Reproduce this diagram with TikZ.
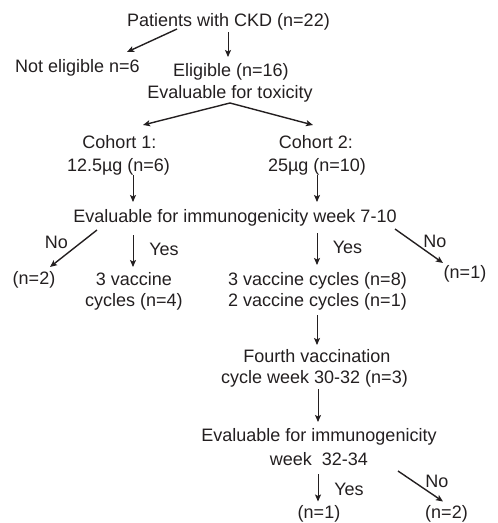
\documentclass[tikz,border=0pt]{standalone}
\usepackage{fontspec}
\setmainfont{Liberation Sans}
\usetikzlibrary{arrows.meta,calc}
\definecolor{txtc}{HTML}{231F20}
\tikzset{
  lbl/.style={font=\fontsize{18}{22}\selectfont, inner sep=0pt, anchor=base, text=txtc},
  arr/.style={draw=txtc, line width=1pt, -{Stealth[length=7pt,width=6pt,inset=1.5pt]}},
  darr/.style={arr, line width=1.4pt},
}
\begin{document}
\begin{tikzpicture}[x=1pt,y=-1pt]
\useasboundingbox (0,0) rectangle (498,523);
% nodes
\node[lbl] (top)   at (228.5,26)  {Patients with CKD (n=22)};
\node[lbl] (notel) at (77.5,72.5) {Not eligible n=6};
\node[lbl] (elig)  at (231,76)    {Eligible (n=16)};
\node[lbl] (tox)   at (230,98)    {Evaluable for toxicity};
\node[lbl] (c1a)   at (119.5,148) {Cohort 1:};
\node[lbl] (c1b)   at (118.5,171) {12.5µg (n=6)};
\node[lbl] (c2a)   at (316,148)   {Cohort 2:};
\node[lbl] (c2b)   at (317,171)   {25µg (n=10)};
\node[lbl] (ev1)   at (235,222)   {Evaluable for immunogenicity week 7-10};
\node[lbl] (no1)   at (56.5,248)  {No};
\node[lbl] (yes1)  at (164,255)   {Yes};
\node[lbl] (yes2)  at (347.5,253) {Yes};
\node[lbl] (no2)   at (435,247)   {No};
\node[lbl] (n2a)   at (34,284)    {(n=2)};
\node[lbl] (v4a)   at (134,285)   {3 vaccine};
\node[lbl] (v4b)   at (134,306)   {cycles (n=4)};
\node[lbl] (v8a)   at (317.5,285) {3 vaccine cycles (n=8)};
\node[lbl] (v8b)   at (317.5,306) {2 vaccine cycles (n=1)};
\node[lbl] (n1a)   at (465,278)   {(n=1)};
\node[lbl] (fa)    at (317,362)   {Fourth vaccination};
\node[lbl] (fb)    at (314.5,383) {cycle week 30-32 (n=3)};
\node[lbl] (ev2a)  at (319,441)   {Evaluable for immunogenicity};
\node[lbl] (ev2b)  at (319,465)   {week\ \ 32-34};
\node[lbl] (yes3)  at (349,495)   {Yes};
\node[lbl] (no3)   at (437,487)   {No};
\node[lbl] (n1b)   at (319,518.5) {(n=1)};
\node[lbl] (n2b)   at (446.5,518.5) {(n=2)};
% connectors
\draw[darr] ($(top.base)+(-51.5,3)$) -- ($(notel.base)+(49.5,-20.5)$);
\draw[arr]  ($(top.base)+(-0.5,6)$) -- ($(elig.base)+(-3,-19)$);
\draw[darr] ($(tox.base)+(0,5)$) -- ($(c1a.base)+(23.5,-23)$);
\draw[darr] ($(tox.base)+(0,5)$) -- ($(c2a.base)+(-3,-23)$);
\draw[arr]  ($(c1b.base)+(14.5,4)$) -- ($(ev1.base)+(-102,-20)$);
\draw[arr]  ($(c2b.base)+(0,4)$) -- ($(ev1.base)+(82,-20)$);
\draw[darr] ($(ev1.base)+(-138,8)$) -- ($(n2a.base)+(16,-17)$);
\draw[arr]  ($(ev1.base)+(-102,13)$) -- ($(v4a.base)+(-1,-18)$);
\draw[arr]  ($(ev1.base)+(82,11)$) -- ($(v8a.base)+(-0.5,-20)$);
\draw[darr] ($(ev1.base)+(160,7)$) -- ($(n1a.base)+(-22,-15)$);
\draw[arr]  ($(v8b.base)+(-0.5,9)$) -- ($(fa.base)+(0,-17)$);
\draw[arr]  ($(fb.base)+(3.5,6)$) -- ($(ev2a.base)+(-1,-19)$);
\draw[arr]  ($(ev2b.base)+(-1,9)$) -- ($(n1b.base)+(-1,-17)$);
\draw[darr] ($(ev2b.base)+(79,6)$) -- ($(n2b.base)+(-3.5,-17)$);
\end{tikzpicture}
\end{document}
